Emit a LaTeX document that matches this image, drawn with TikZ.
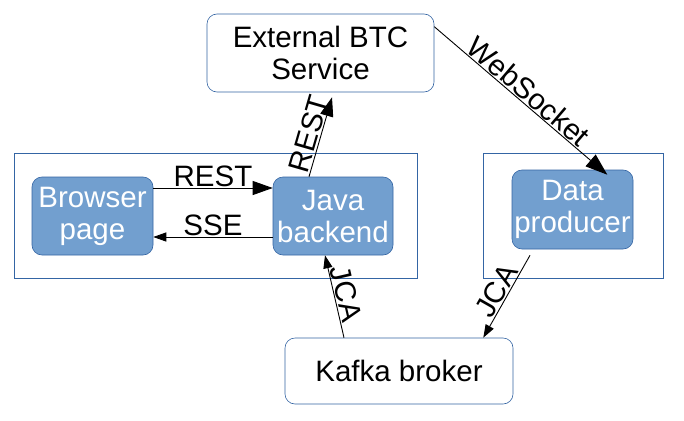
\documentclass[tikz,border=0pt]{standalone}
\usepackage{fontspec}
\setmainfont{Liberation Sans}
\usetikzlibrary{arrows.meta}
\definecolor{boxblue}{HTML}{729FCF}
\definecolor{edgeblue}{HTML}{3465A4}
\begin{document}
\begin{tikzpicture}[x=1pt,y=-1pt,
  every node/.style={font=\fontsize{29.5}{32}\selectfont},
  bluebox/.style={draw=edgeblue, line width=0.6pt, fill=boxblue, text=white, rounded corners=10pt, align=center, inner sep=0pt},
  whitebox/.style={draw=edgeblue, line width=0.6pt, fill=white, text=black, rounded corners=10pt, align=center, inner sep=0pt},
  container/.style={draw=edgeblue, line width=0.6pt},
  conn/.style={line width=0.9pt, -{Triangle[length=#1, width=0.7*#1]}},
  conn/.default=14pt,
  lbl/.style={sloped, above, inner sep=1pt}
]
\useasboundingbox (0,0) rectangle (684,420);
\fill[white] (0,0) rectangle (684,420);

% containers
\draw[container] (14,153) rectangle (417,278);
\draw[container] (483,153) rectangle (663,278);

% nodes
\node[whitebox, minimum width=227pt, minimum height=78pt] (ext) at (320.5,53) {External BTC\\Service};
\node[bluebox, minimum width=121pt, minimum height=78pt] (browser) at (92.5,216) {Browser\\page};
\node[bluebox, minimum width=120pt, minimum height=78pt] (java) at (333,216) {Java\\backend};
\node[bluebox, minimum width=121pt, minimum height=79pt] (data) at (572.5,209.5) {Data\\producer};
\node[whitebox, minimum width=228pt, minimum height=66pt] (kafka) at (399,371) {Kafka broker};

% connectors
\draw[conn=20pt] ([yshift=28pt]browser.east) -- node[lbl] {REST} ([yshift=28pt]java.west);
\draw[conn=13pt] ([yshift=-21pt]java.west) -- node[lbl] {SSE} ([yshift=-21pt]browser.east);
\draw[conn=19pt] ([xshift=-24pt]java.north) -- node[lbl] {REST} ([xshift=11.5pt,yshift=-5pt]ext.south);
\draw[conn=22pt] ([yshift=-13pt]ext.north east) -- node[lbl] {WebSocket} ([xshift=-26pt,yshift=-5pt]data.north east);
\draw[conn=13pt] ([xshift=-55pt]kafka.north) -- node[lbl] {JCA} ([xshift=-8pt]java.south);
\draw[conn=13pt] ([xshift=-42.5pt,yshift=-6pt]data.south) -- node[lbl] {JCA} ([xshift=-30pt]kafka.north east);
\end{tikzpicture}
\end{document}
